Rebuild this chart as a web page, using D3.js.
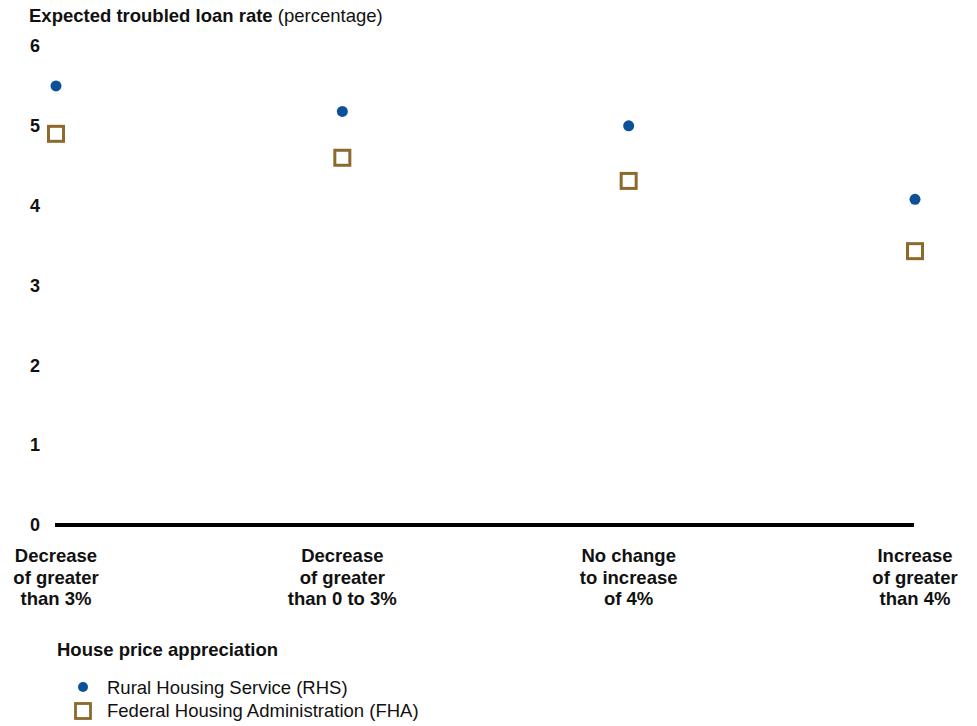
<!DOCTYPE html>
<html>
<head>
<meta charset="utf-8">
<script src="https://cdn.jsdelivr.net/npm/d3@7"></script>
<style>
  html, body { margin: 0; padding: 0; background: #fff; }
  svg { display: block; font-family: "Liberation Sans", Arial, sans-serif; }
</style>
</head>
<body>
<svg id="chart" width="977" height="726"></svg>
<script>
const categories = [
  ["Decrease", "of greater", "than 3%"],
  ["Decrease", "of greater", "than 0 to 3%"],
  ["No change", "to increase", "of 4%"],
  ["Increase", "of greater", "than 4%"]
];
const rhsValues = [5.5, 5.18, 5.0, 4.08];
const fhaValues = [4.9, 4.6, 4.31, 3.43];
const yTicks = [0, 1, 2, 3, 4, 5, 6];
const seriesNames = ["Rural Housing Service (RHS)", "Federal Housing Administration (FHA)"];

const blue = "#0b5199";
const gold = "#8b6a2b";
const fs = 18.5;

const svg = d3.select("#chart");

const x = d3.scalePoint().domain(d3.range(categories.length)).range([56, 915]);
const y = d3.scaleLinear().domain([0, 6]).range([525, 46]);

// Title
const title = svg.append("text").attr("x", 29).attr("y", 22).attr("font-size", fs).attr("fill", "#111");
title.append("tspan").attr("font-weight", "bold").text("Expected troubled loan rate");
title.append("tspan").text(" (percentage)");

// Y axis labels
const yAxis = d3.axisLeft(y).tickValues(yTicks).tickSize(0).tickPadding(0).tickFormat(d3.format("d"));
const yg = svg.append("g").attr("transform", "translate(40,0)").call(yAxis);
yg.select(".domain").remove();
yg.selectAll("text")
  .attr("font-family", "Liberation Sans, Arial, sans-serif")
  .attr("font-size", 18).attr("font-weight", "bold").attr("fill", "#111")
  .attr("text-anchor", "middle").attr("x", -5);

// Baseline
svg.append("line")
  .attr("x1", 55).attr("x2", 914)
  .attr("y1", y(0)).attr("y2", y(0))
  .attr("stroke", "#000").attr("stroke-width", 4);

// Category labels
const xg = svg.append("g");
categories.forEach((lines, i) => {
  const t = xg.append("text").attr("x", x(i)).attr("y", 562)
    .attr("text-anchor", "middle").attr("font-size", fs).attr("font-weight", "bold").attr("fill", "#111");
  lines.forEach((ln, j) => {
    t.append("tspan").attr("x", x(i)).attr("dy", j === 0 ? 0 : 21.5).text(ln);
  });
});

// RHS dots
svg.append("g").selectAll("circle").data(rhsValues).join("circle")
  .attr("cx", (d, i) => x(i)).attr("cy", d => y(d)).attr("r", 5.5).attr("fill", blue);

// FHA squares
const sq = 15;
svg.append("g").selectAll("rect").data(fhaValues).join("rect")
  .attr("x", (d, i) => x(i) - sq / 2).attr("y", d => y(d) - sq / 2)
  .attr("width", sq).attr("height", sq)
  .attr("fill", "none").attr("stroke", gold).attr("stroke-width", 3);

// X axis title
svg.append("text").attr("x", 57).attr("y", 656).attr("font-size", fs).attr("font-weight", "bold")
  .attr("fill", "#111").text("House price appreciation");

// Legend
const leg = svg.append("g");
leg.append("circle").attr("cx", 83).attr("cy", 687).attr("r", 5).attr("fill", blue);
leg.append("text").attr("x", 107).attr("y", 694).attr("font-size", fs).attr("fill", "#111").text(seriesNames[0]);
leg.append("rect").attr("x", 83 - 7.5).attr("y", 711 - 7.5).attr("width", 15).attr("height", 15)
  .attr("fill", "none").attr("stroke", gold).attr("stroke-width", 2.8);
leg.append("text").attr("x", 107).attr("y", 717).attr("font-size", fs).attr("fill", "#111").text(seriesNames[1]);
</script>
</body>
</html>
